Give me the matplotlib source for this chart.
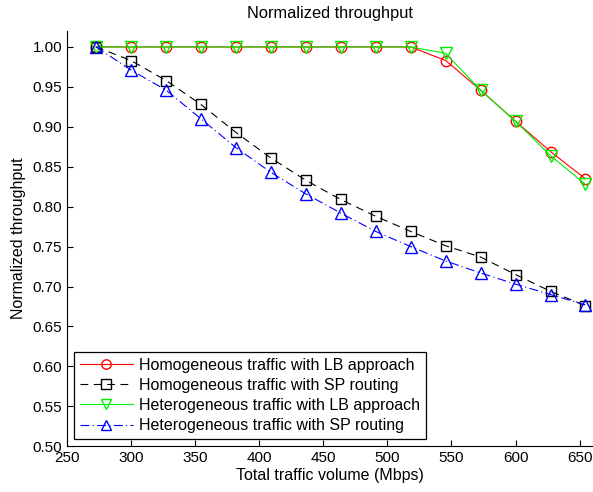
import numpy as np
import matplotlib
matplotlib.use("Agg")
from matplotlib import pyplot as plt

# traffic volume (Mbps)
traffic = [272.7, 300.0, 327.3, 354.5, 381.8, 409.1, 436.4, 463.6, 490.9,
           518.2, 545.5, 572.7, 600.0, 627.3, 654.5]

homo_lb = [1.0, 1.0, 1.0, 1.0, 1.0, 1.0, 1.0, 1.0, 1.0, 1.0,
           0.983, 0.946, 0.907, 0.869, 0.835]
homo_sp = [1.0, 0.983, 0.958, 0.928, 0.893, 0.861, 0.833, 0.809, 0.788,
           0.769, 0.751, 0.737, 0.715, 0.694, 0.676]
hete_lb = [1.0, 1.0, 1.0, 1.0, 1.0, 1.0, 1.0, 1.0, 1.0, 1.0,
           0.992, 0.946, 0.907, 0.864, 0.828]
hete_sp = [1.0, 0.971, 0.946, 0.910, 0.874, 0.843, 0.816, 0.792, 0.769,
           0.750, 0.732, 0.717, 0.703, 0.690, 0.677]

xticks = [250, 300, 350, 400, 450, 500, 550, 600, 650]
yticks = [0.50, 0.55, 0.60, 0.65, 0.70, 0.75, 0.80, 0.85, 0.90, 0.95, 1.00]

plt.rcParams['font.family'] = ['Liberation Sans', 'DejaVu Sans']
plt.rcParams['font.size'] = 11

fig = plt.figure(figsize=(5.93, 4.92), dpi=100)
ax = fig.add_axes([0.113, 0.093, 0.886, 0.844])

ms = 7.5
ax.plot(traffic, homo_lb, '-', color='#ff0000', marker='o', mfc='none', ms=ms,
        lw=0.8, label='Homogeneous traffic with LB approach')
ax.plot(traffic, homo_sp, color='black', ls=(0, (7, 5)), marker='s', mfc='none', ms=ms,
        lw=0.8, label='Homogeneous traffic with SP routing')
ax.plot(traffic, hete_lb, '-', color='#00ee00', marker='v', mfc='none', ms=ms + 1,
        lw=0.8, label='Heterogeneous traffic with LB approach')
ax.plot(traffic, hete_sp, color='#0000ff', ls=(0, (8, 3, 1, 3)), marker='^', mfc='none',
        ms=ms + 1, lw=0.8, label='Heterogeneous traffic with SP routing')

ax.set_xlim(250, 660)
ax.set_ylim(0.5, 1.02)
ax.set_xticks(xticks)
ax.set_yticks(yticks)
ax.set_yticklabels(['%.2f' % v for v in yticks])
ax.tick_params(direction='in', length=4, labelsize=11)
ax.spines['top'].set_visible(False)
ax.spines['right'].set_visible(False)

ax.set_title('Normalized throughput', fontsize=11.8, pad=9)
ax.set_xlabel('Total traffic volume (Mbps)', fontsize=11.5, labelpad=2)
ax.set_ylabel('Normalized throughput', fontsize=11.5, labelpad=5)

leg = ax.legend(loc='lower left', bbox_to_anchor=(0.014, 0.018), fontsize=11.5,
                fancybox=False, framealpha=1, edgecolor='black',
                handlelength=3.3, borderpad=0.35, labelspacing=0.32,
                handletextpad=0.4, borderaxespad=0, markerscale=0.9)
leg.get_frame().set_linewidth(0.9)

fig.savefig('out.png', dpi=100)
